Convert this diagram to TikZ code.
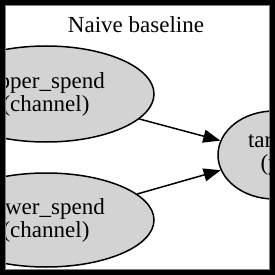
\documentclass[tikz,border=0pt]{standalone}
\usepackage{fontspec}
\setmainfont{Liberation Serif}
\usetikzlibrary{shapes.geometric,arrows.meta}
\definecolor{gvgray}{HTML}{D3D3D3}
\tikzset{
  gvnode/.style={ellipse, draw=black, fill=gvgray, line width=1.5pt, inner sep=0pt, align=center,
    font=\fontsize{23}{23}\selectfont},
  gvedge/.style={line width=1.5pt, -{Triangle[length=17pt,width=13pt]}},
  titletext/.style={font=\fontsize{23}{23}\selectfont, inner sep=0pt, anchor=base}
}
\begin{document}
\begin{tikzpicture}[x=1pt,y=-1pt]
\useasboundingbox (0,0) rectangle (275,275);
\fill[black] (0,0) rectangle (275,275);
\fill[white] (5,5) rectangle (270,270);
\draw[gray, line width=1pt] (5.5,5.5) rectangle (269.5,269.5);
\begin{scope}
\clip (6,6) rectangle (269,269);
\node[titletext] (title) at (136,33) {Naive baseline};
\node[gvnode, minimum width=216pt, minimum height=96pt] (up) at (46,94) {upper\_spend\\(channel)};
\node[gvnode, minimum width=216pt, minimum height=94pt] (low) at (46,220) {lower\_spend\\(channel)};
\node[gvnode, minimum width=112pt, minimum height=88pt] (tgt) at (274,155) {target\\(y)};
\draw[gvedge] (up) -- (tgt);
\draw[gvedge] (low) -- (tgt);
\end{scope}
\end{tikzpicture}
\end{document}
